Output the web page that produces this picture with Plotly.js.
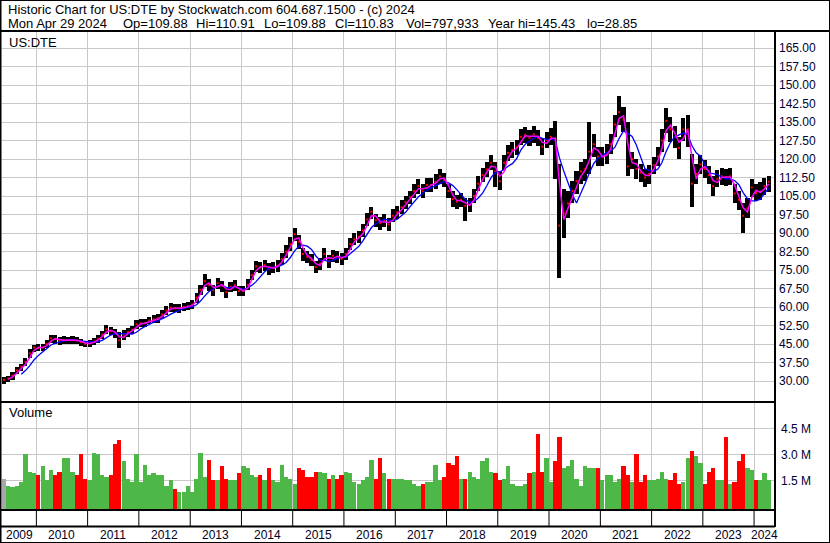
<!DOCTYPE html>
<html><head><meta charset="utf-8">
<script src="https://cdn.plot.ly/plotly-3.0.1.min.js"></script>
<style>html,body{margin:0;padding:0;background:#fff;overflow:hidden}#chart{width:830px;height:543px}</style>
</head><body><div id="chart"></div>
<script>
// ---- data (monthly) ----
const startYear = 2009, startMonth = 5;
const closes = [
 30.5,31.0,32.2,34.3,35.8,37.8,41.2,43.6,
 43.5,43.6,45.0,47.3,47.0,46.4,46.6,46.6,46.6,46.4,45.8,45.0,
 45.3,46.0,47.2,48.8,51.0,50.2,49.4,46.5,48.8,49.8,50.8,53.0,
 53.4,53.5,54.5,55.0,55.3,57.0,58.6,59.8,59.5,59.5,60.0,60.3,
 61.0,63.8,67.0,70.5,69.0,66.8,69.7,68.5,66.0,68.2,68.8,66.5,
 66.5,69.0,73.0,76.5,76.0,77.0,75.5,76.0,76.8,79.5,82.5,85.5,
 89.5,86.5,81.5,80.3,79.0,76.2,77.5,81.5,78.5,80.8,80.4,79.5,
 81.5,85.5,87.5,88.5,91.0,95.5,98.6,95.2,94.0,95.0,93.5,97.0,
 98.4,100.5,102.5,104.5,107.0,109.0,107.0,109.5,109.5,110.8,113.0,111.5,
 107.0,103.8,102.7,103.4,101.0,101.5,105.0,110.0,113.5,115.8,118.5,115.0,
 111.0,118.5,122.5,123.7,124.8,129.0,129.8,128.6,130.0,128.5,125.0,127.7,
 129.0,128.0,93.0,98.0,102.0,107.0,111.0,115.0,116.0,123.0,126.0,121.0,
 121.0,122.0,126.0,134.0,139.0,136.0,117.0,120.0,116.0,114.5,112.5,114.0,
 117.5,121.0,127.5,135.5,132.0,129.0,124.5,132.0,132.0,110.0,114.0,117.8,
 116.0,113.5,109.0,112.0,113.0,112.5,113.0,106.0,103.5,97.0,100.0,108.5,
 106.2,106.8,109.0,110.8
];
const highs = [
 31.8,32.2,33.6,35.8,37.0,39.5,43.0,44.8,
 45.0,45.0,46.5,48.8,48.6,48.0,48.2,48.0,48.2,47.8,47.2,46.4,
 46.8,47.5,48.8,50.4,52.8,52.0,51.2,50.0,50.6,51.6,52.5,54.6,
 55.0,55.0,56.0,56.6,57.0,58.8,60.4,61.6,61.2,61.2,61.8,62.0,
 62.8,65.8,69.0,73.2,71.5,69.0,71.8,70.6,68.2,70.2,70.8,68.6,
 68.6,71.2,75.2,78.6,78.2,79.2,77.8,78.2,79.0,81.8,85.0,88.2,
 92.2,89.0,84.0,82.6,81.4,78.6,80.0,84.0,81.0,83.2,82.8,82.0,
 84.0,88.0,90.0,91.0,93.6,98.2,100.6,97.8,96.6,97.6,96.2,99.6,
 101.0,103.2,105.2,107.2,109.8,112.0,110.0,112.4,112.4,113.8,116.0,114.4,
 110.0,107.0,105.6,106.4,104.0,104.4,108.0,113.0,116.4,118.8,121.6,118.6,
 115.0,121.6,125.6,126.8,127.8,132.2,133.0,131.8,133.4,131.8,128.4,131.0,
 132.4,135.4,118.0,108.0,107.0,111.0,115.0,119.0,120.0,135.0,130.0,125.0,
 125.0,126.0,130.0,138.0,145.4,141.0,135.0,123.0,120.0,118.0,116.0,117.5,
 121.0,125.0,132.0,140.5,137.0,133.5,129.0,136.5,138.0,122.0,118.0,121.5,
 119.5,117.0,113.0,115.5,116.5,116.0,116.5,110.0,107.0,102.0,104.0,112.0,
 110.0,110.5,112.5,113.0
];
const lows = [
 28.9,29.8,30.6,32.8,34.2,36.2,39.2,41.8,
 42.0,42.2,43.5,45.6,45.2,44.6,45.0,45.0,45.1,44.9,44.3,43.6,
 43.8,44.5,45.6,47.2,49.2,48.5,47.6,43.2,46.8,48.0,49.0,51.2,
 51.8,52.0,53.0,53.4,53.6,55.2,56.8,58.0,57.8,57.6,58.2,58.6,
 59.2,61.8,65.0,68.2,66.6,64.6,67.4,66.2,63.8,66.0,66.6,64.4,
 64.4,66.8,70.8,74.2,73.8,74.6,73.0,73.8,74.4,77.0,80.0,82.8,
 86.8,83.6,78.8,77.8,76.6,73.8,75.0,78.8,76.0,78.2,78.0,77.0,
 79.0,83.0,85.0,86.0,88.4,92.8,95.8,92.6,91.4,92.4,90.8,94.4,
 95.8,97.8,99.8,101.8,104.2,106.0,104.0,106.6,106.6,107.8,110.0,108.6,
 104.0,100.6,99.8,100.4,95.0,98.6,102.0,107.0,110.6,112.8,115.4,108.5,
 107.5,115.4,119.4,120.6,121.8,125.8,126.6,125.4,126.6,125.2,121.6,124.4,
 125.6,112.0,71.6,88.0,96.0,102.0,106.0,110.0,111.0,114.0,121.0,117.0,
 117.0,118.0,122.0,129.0,134.0,131.0,113.0,116.0,112.0,110.5,108.5,110.0,
 114.0,117.0,123.0,130.5,127.0,124.5,120.0,127.5,125.0,100.7,110.0,114.0,
 112.5,110.0,105.0,108.5,109.5,109.0,109.5,102.0,99.5,89.9,96.0,104.5,
 103.0,103.5,105.5,106.5
];
const volumesM = [
 1.6,1.2,1.1,1.2,1.4,3.0,2.0,1.9,
 1.8,2.3,1.5,2.1,1.8,2.0,2.8,2.8,2.0,1.8,3.0,1.6,
 1.5,3.1,3.0,1.8,1.7,1.8,3.6,3.8,2.6,1.6,1.4,3.0,
 1.4,2.4,1.8,1.9,1.8,1.8,1.2,1.5,1.0,0.8,0.8,1.2,
 0.8,1.6,3.1,1.7,2.7,1.5,1.5,2.3,1.6,1.5,1.5,1.9,
 2.3,2.2,1.8,1.7,1.8,1.5,2.2,1.5,1.4,2.4,1.7,1.6,
 1.3,2.2,2.1,1.7,1.7,2.0,2.0,1.9,1.6,1.8,1.6,1.8,
 2.0,1.9,1.4,1.3,1.5,1.7,2.7,1.6,2.8,1.9,1.6,1.6,
 1.6,1.6,1.5,1.5,1.3,1.2,1.3,1.4,1.4,2.4,1.5,1.7,
 2.5,2.4,2.9,1.6,1.6,2.0,1.7,1.6,2.6,2.8,2.0,1.9,
 1.5,1.6,2.3,1.3,1.2,1.2,1.3,1.9,2.0,4.2,2.0,2.8,
 1.4,2.6,4.0,2.2,2.3,2.7,1.6,1.2,2.3,2.2,2.2,2.2,
 1.5,1.8,1.8,1.4,1.6,2.3,1.8,1.4,3.0,1.4,1.8,1.5,
 1.5,1.6,2.0,1.6,1.5,1.9,1.3,1.4,2.8,3.2,2.9,2.5,
 1.3,2.0,2.2,1.5,1.5,4.0,1.3,1.4,2.6,3.0,2.2,2.1,
 1.5,1.5,1.9,1.5
];
const yearLabels = ['2009','2010','2011','2012','2013','2014','2015','2016','2017','2018','2019','2020','2021','2022','2023','2024'];
const priceTicks = [30,37.5,45,52.5,60,67.5,75,82.5,90,97.5,105,112.5,120,127.5,135,142.5,150,157.5,165];
const volTicks = [1.5,3.0,4.5];
const volTickText = ['1.5 M','3.0 M','4.5 M'];
const headerLine1 = 'Historic Chart for US:DTE by Stockwatch.com 604.687.1500 - (c) 2024';
const headerFields = ['Mon Apr 29 2024','Op=109.88','Hi=110.91','Lo=109.88','Cl=110.83','Vol=797,933','Year hi=145.43','lo=28.85'];
const symbolLabel = 'US:DTE';
const volumeLabel = 'Volume';

// ---- derived ----
const dates = closes.map((_, i) => {
  const m = startMonth - 1 + i;
  const y = startYear + Math.floor(m / 12);
  return y + '-' + String(m % 12 + 1).padStart(2, '0') + '-15';
});
function sma(a, n) {
  return a.map((_, i) => {
    if (i < n - 1) return null;
    let s = 0; for (let k = i - n + 1; k <= i; k++) s += a[k];
    return s / n;
  });
}
const maFast = sma(closes, 2);
const maSlow = sma(closes, 5);
const volColors = closes.map((c, i) => i === 0 ? '#a8a8a8' : (c >= closes[i - 1] ? '#4db848' : '#ff0000'));
const DAY = 86400000;
const VOL_PAD = 0.156;

const W = 830, H = 543;
const fx = p => p / W, fy = p => 1 - p / H;
const FONT = 'Liberation Sans, Arial, sans-serif';
const xStart = '2009-05-01', xEnd = '2024-05-22';
const yearStarts = yearLabels.slice(1).map(y => y + '-01-01');

const traces = [
  { type: 'bar', x: dates, base: lows, y: highs.map((h, i) => h - lows[i]), width: 29 * DAY,
    marker: { color: '#000000', line: { width: 0 } }, xaxis: 'x', yaxis: 'y', hoverinfo: 'skip' },
  { type: 'scatter', mode: 'markers', x: dates, y: closes, marker: { color: '#ff0000', size: 2, symbol: 'square' },
    xaxis: 'x', yaxis: 'y', hoverinfo: 'skip' },
  { type: 'scatter', mode: 'lines', x: dates, y: maSlow, line: { color: '#0000ff', width: 1.3 }, xaxis: 'x', yaxis: 'y' },
  { type: 'scatter', mode: 'lines', x: dates, y: maFast, line: { color: '#ff00ff', width: 1.5 }, xaxis: 'x', yaxis: 'y' },
  { type: 'bar', x: dates, base: -VOL_PAD, y: volumesM.map(v => v + VOL_PAD), width: 30.4 * DAY,
    marker: { color: volColors, line: { width: 0 } }, xaxis: 'x2', yaxis: 'y2', hoverinfo: 'skip' }
];

const annotations = [];
const hdrFont = { family: FONT, size: 13, color: '#000' };
annotations.push({ xref: 'paper', yref: 'paper', x: fx(6), y: fy(10), xanchor: 'left', yanchor: 'middle', showarrow: false,
  text: headerLine1, font: hdrFont });
const fieldX = [6, 121, 194, 262, 333, 404, 486, 585];
headerFields.forEach((t, i) => annotations.push({ xref: 'paper', yref: 'paper', x: fx(fieldX[i]), y: fy(23.5), xanchor: 'left', yanchor: 'middle',
  showarrow: false, text: t, font: hdrFont }));
annotations.push({ xref: 'paper', yref: 'paper', x: fx(7), y: fy(42), xanchor: 'left', yanchor: 'middle', showarrow: false,
  text: symbolLabel, font: { family: FONT, size: 13, color: '#000' } });
annotations.push({ xref: 'paper', yref: 'paper', x: fx(7), y: fy(413), xanchor: 'left', yanchor: 'middle', showarrow: false,
  text: volumeLabel, font: { family: FONT, size: 13, color: '#000' } });
const t0 = Date.parse(xStart), t1 = Date.parse(xEnd);
yearLabels.forEach(y => {
  const a = Math.max(Date.parse(y + '-01-01'), t0), b = Math.min(Date.parse((+y + 1) + '-01-01'), t1);
  annotations.push({ xref: 'x2', yref: 'paper', x: new Date((a + b) / 2).toISOString().slice(0, 10), y: fy(535), xanchor: 'center', yanchor: 'middle',
    showarrow: false, text: y, font: { family: FONT, size: 12, color: '#000020' } });
});

const shapes = [];
const blk = (x0, y0, x1, y1, w) => shapes.push({ type: 'line', xref: 'paper', yref: 'paper', x0: fx(x0), y0: fy(y0), x1: fx(x1), y1: fy(y1), line: { color: '#000', width: w } });
blk(0, 0.5, 830, 0.5, 1);
blk(0.5, 0, 0.5, 543, 2);
blk(829.5, 0, 829.5, 543, 1);
blk(0, 542.5, 830, 542.5, 1);
blk(0, 31, 830, 31, 2);
blk(775, 31, 775, 527, 2);
blk(0, 402, 775, 402, 2);
blk(0, 510, 775, 510, 2);
blk(0, 526.5, 775, 526.5, 2);
yearStarts.forEach(d => shapes.push({ type: 'line', xref: 'x2', yref: 'paper', x0: d, x1: d, y0: fy(510), y1: fy(526), line: { color: '#000', width: 1 } }));

const axX = dom => ({ type: 'date', domain: dom, range: [xStart, xEnd], tickvals: yearStarts, showticklabels: false, ticks: '',
  showgrid: true, gridcolor: '#c8c8c8', gridwidth: 1, zeroline: false, showline: false, fixedrange: true });
const layout = {
  width: W, height: H, margin: { l: 0, r: 0, t: 0, b: 0 }, paper_bgcolor: '#fff', plot_bgcolor: '#fff',
  showlegend: false, bargap: 0, barmode: 'overlay',
  xaxis: Object.assign(axX([fx(2), fx(774)]), { anchor: 'y' }),
  xaxis2: Object.assign(axX([fx(2), fx(774)]), { anchor: 'y2' }),
  yaxis: { domain: [fy(401), fy(32)], range: [21.9, 171.5], side: 'right', anchor: 'x', tickvals: priceTicks,
    ticktext: priceTicks.map(v => v.toFixed(2)), ticks: '', ticklabelstandoff: 4, showgrid: true, gridcolor: '#c8c8c8', gridwidth: 1,
    zeroline: false, showline: false, tickfont: { family: FONT, size: 12, color: '#000033' } },
  yaxis2: { domain: [fy(509), fy(403)], range: [-VOL_PAD, 5.96], side: 'right', anchor: 'x2', tickvals: volTicks, ticktext: volTickText,
    ticks: '', ticklabelstandoff: 6, showgrid: true, gridcolor: '#c8c8c8', gridwidth: 1, zeroline: false, showline: false,
    tickfont: { family: FONT, size: 12, color: '#000033' } },
  annotations: annotations, shapes: shapes
};
Plotly.newPlot('chart', traces, layout, { staticPlot: true, displayModeBar: false });
</script></body></html>
